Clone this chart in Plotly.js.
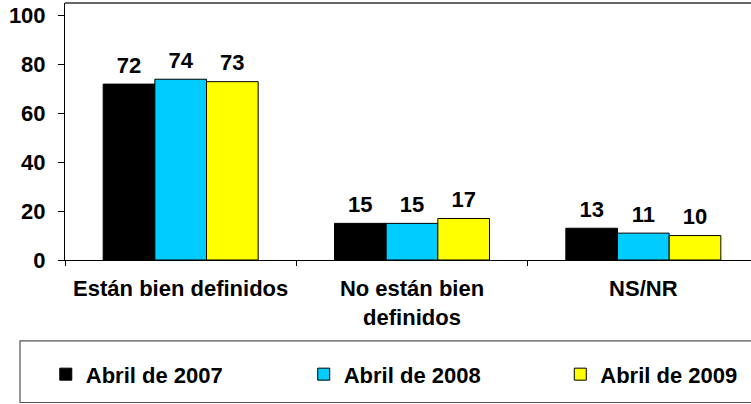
<!DOCTYPE html>
<html>
<head>
<meta charset="utf-8">
<script src="https://cdn.plot.ly/plotly-3.0.1.min.js"></script>
<style>html,body{margin:0;padding:0;background:#fff;}#chart{width:751px;height:404px;}</style>
</head>
<body>
<div id="chart"></div>
<script>
const categories = ["Están bien definidos", "No están bien<br>definidos", "NS/NR"];
const seriesNames = ["Abril de 2007", "Abril de 2008", "Abril de 2009"];
const values2007 = [72, 15, 13];
const values2008 = [74, 15, 11];
const values2009 = [73, 17, 10];
const yTickValues = [0, 20, 40, 60, 80, 100];

const colors = ["#000000", "#00CCFF", "#FFFF00"];
const seriesValues = [values2007, values2008, values2009];
const legendIds = ["legend", "legend2", "legend3"];
const FONT = "Liberation Sans, Arial, sans-serif";
const SZ = 22;

const barTraces = seriesValues.map((vals, i) => ({
  type: "bar",
  name: seriesNames[i],
  x: categories,
  y: vals,
  offsetgroup: "g" + i,
  marker: {color: colors[i], line: {color: "#000", width: 1}},
  legend: legendIds[i],
  hoverinfo: "none"
}));

const labelTraces = seriesValues.map((vals, i) => ({
  type: "scatter",
  mode: "markers+text",
  x: categories,
  y: vals,
  offsetgroup: "g" + i,
  marker: {size: 8, color: "rgba(0,0,0,0)", line: {width: 0}},
  text: vals.map(String),
  textposition: "top center",
  textfont: {family: FONT, size: SZ, weight: "bold", color: "#000"},
  cliponaxis: false,
  showlegend: false,
  hoverinfo: "none"
}));

function legendAt(x) {
  return {
    x: x, xanchor: "left", y: -0.445, yanchor: "middle",
    orientation: "h", bgcolor: "rgba(0,0,0,0)", borderwidth: 0,
    font: {family: FONT, size: SZ, weight: "bold", color: "#000"}
  };
}

const layout = {
  width: 751, height: 404,
  margin: {l: 65, r: 0, t: 3, b: 144},
  paper_bgcolor: "#fff", plot_bgcolor: "#fff",
  barmode: "group", bargap: 0.33, bargroupgap: 0,
  scattermode: "group", scattergap: 0.33,
  showlegend: true,
  legend: legendAt(-0.028),
  legend2: legendAt(0.348),
  legend3: legendAt(0.722),
  xaxis: {
    type: "category",
    range: [-0.5, 2.4654],
    showline: true, linecolor: "#000", linewidth: 1,
    ticks: "outside", tickson: "boundaries", ticklen: 5, tickcolor: "#000",
    ticklabelstandoff: 9,
    tickfont: {family: FONT, size: SZ, weight: "bold", color: "#000"},
    showgrid: false, zeroline: false, fixedrange: true
  },
  yaxis: {
    range: [0, 105.2],
    tickvals: yTickValues,
    showline: true, linecolor: "#000", linewidth: 1,
    ticks: "outside", ticklen: 6, tickcolor: "#000",
    ticklabelstandoff: 8,
    tickfont: {family: FONT, size: SZ, weight: "bold", color: "#000"},
    showgrid: false, zeroline: false, fixedrange: true
  },
  shapes: [
    {type: "line", xref: "paper", yref: "paper", x0: 0, x1: 1.02, y0: 1, y1: 1,
     line: {color: "#333", width: 1.5}},
    {type: "rect", xref: "paper", yref: "paper", x0: -0.0656, x1: 1.05, y0: -0.5545, y1: -0.315,
     line: {color: "#555", width: 1.2}, fillcolor: "rgba(0,0,0,0)"}
  ]
};

Plotly.newPlot("chart", barTraces.concat(labelTraces), layout, {displayModeBar: false, staticPlot: true});
</script>
</body>
</html>
